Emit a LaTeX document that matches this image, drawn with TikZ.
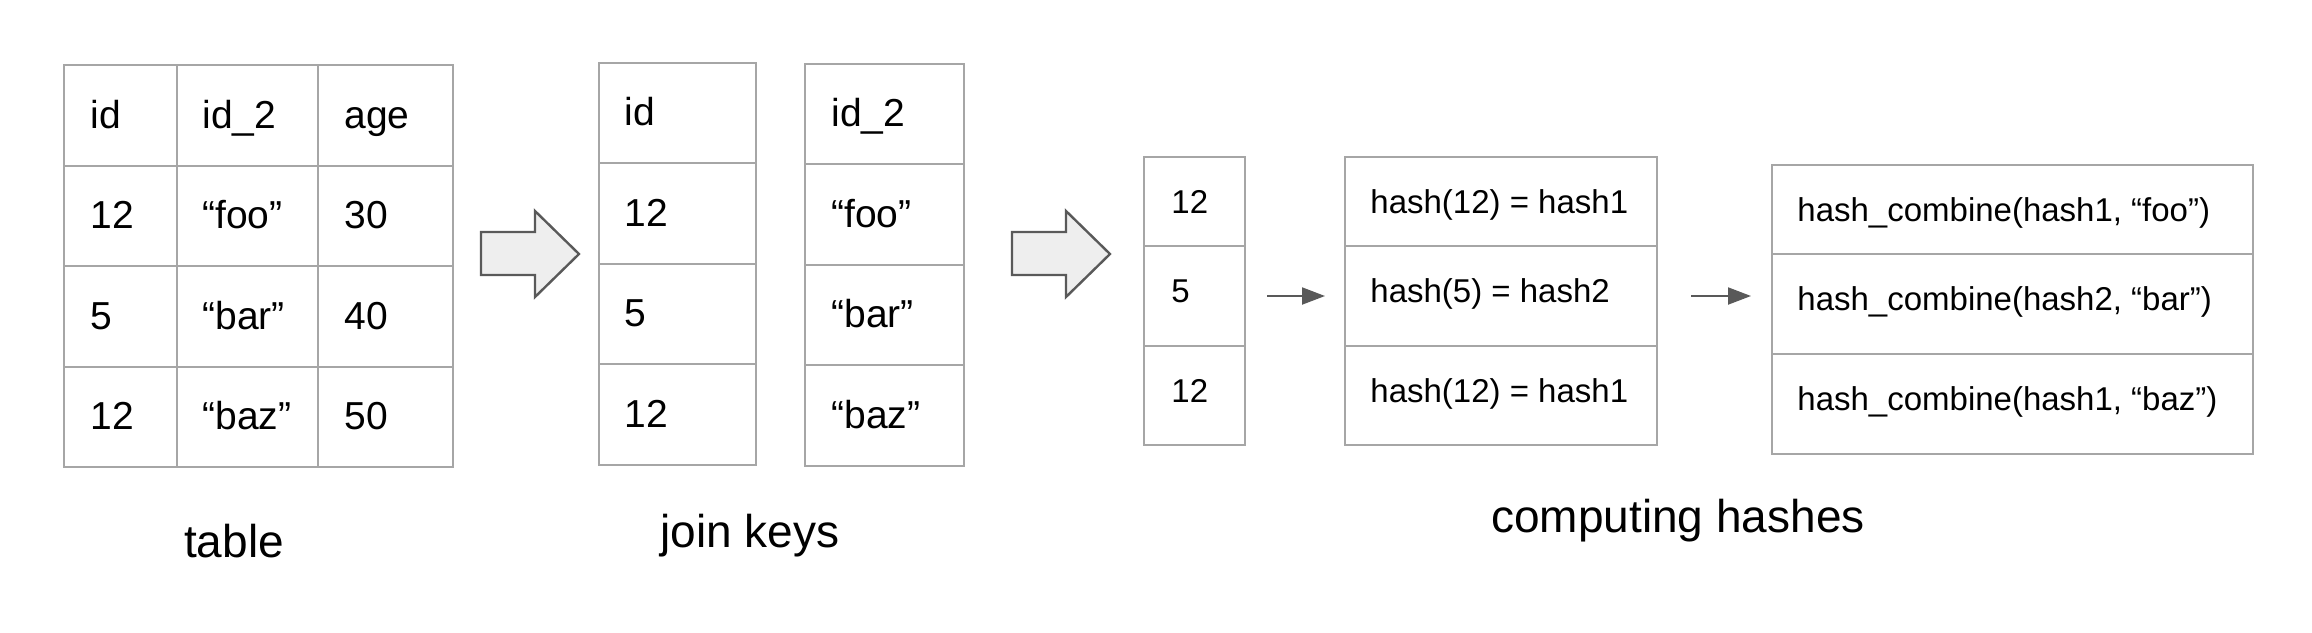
\documentclass[tikz,border=0pt]{standalone}
\usepackage{fontspec}
\setmainfont{Liberation Sans}
\usetikzlibrary{arrows.meta}
\definecolor{cellline}{HTML}{A6A6A6}
\definecolor{arrowline}{HTML}{595959}
\definecolor{arrowfill}{HTML}{EEEEEE}
\tikzset{
    cell/.style={draw=cellline,line width=1pt,anchor=north west,inner sep=0pt,outer sep=0pt},
    tabtext/.style={anchor=base west,inner sep=0pt,font=\fontsize{19.5pt}{23pt}\selectfont},
    hashtext/.style={anchor=base west,inner sep=0pt,font=\fontsize{16.5pt}{20pt}\selectfont},
    caption/.style={anchor=base,inner sep=0pt,font=\fontsize{23pt}{28pt}\selectfont},
    blockarrow/.style={draw=arrowline,fill=arrowfill,line width=1.2pt},
    thinarrow/.style={draw=arrowline,line width=1pt,-{Triangle[length=11.5pt,width=8.5pt]}}
}
\begin{document}
\begin{tikzpicture}[x=0.5pt,y=-0.5pt]
    \useasboundingbox (0,0) rectangle (2312,632);
    \foreach \r/\a/\b/\c in {0/id/id\_2/age,1/12/“foo”/30,2/5/“bar”/40,3/12/“baz”/50}{
        \node[cell,minimum width=56.5pt,minimum height=50.25pt] (ta\r) at (64,65+100.5*\r) {};
        \node[cell,minimum width=70.5pt,minimum height=50.25pt] (tb\r) at (177,65+100.5*\r) {};
        \node[cell,minimum width=67.5pt,minimum height=50.25pt] (tc\r) at (318,65+100.5*\r) {};
        \node[tabtext] (ta\r-t) at ([shift={(26,63)}]ta\r.north west) {\a};
        \node[tabtext] (tb\r-t) at ([shift={(25,63)}]tb\r.north west) {\b};
        \node[tabtext] (tc\r-t) at ([shift={(26,63)}]tc\r.north west) {\c};
    }
    \foreach \r/\a/\b in {0/id/id\_2,1/12/“foo”,2/5/“bar”,3/12/“baz”}{
        \node[cell,minimum width=78.5pt,minimum height=50.25pt] (ka\r) at (599,62.5+100.5*\r) {};
        \node[cell,minimum width=79.5pt,minimum height=50.25pt] (kb\r) at (805,63.5+100.5*\r) {};
        \node[tabtext] (ka\r-t) at ([shift={(25,63)}]ka\r.north west) {\a};
        \node[tabtext] (kb\r-t) at ([shift={(26,63)}]kb\r.north west) {\b};
    }
    \foreach \dx in {0,531}
        \draw[blockarrow,shift={(\dx,0)}] (481,232) -- (535,232) -- (535,211) -- (579,254) -- (535,297) -- (535,275) -- (481,275) -- cycle;
    \foreach \r/\t/\h/\n/\v in {0/157/44.5pt/12/{hash(12) = hash1},1/246/50pt/5/{hash(5) = hash2},2/346/49.5pt/12/{hash(12) = hash1}}{
        \node[cell,minimum width=50.5pt,minimum height=\h] (s\r) at (1144,\t) {};
        \node[cell,minimum width=156pt,minimum height=\h] (h\r) at (1345,\t) {};
        \node[hashtext] (s\r-t) at ([shift={(27,56)}]s\r.north west) {\n};
        \node[hashtext] (h\r-t) at ([shift={(25,56)}]h\r.north west) {\v};
    }
    \foreach \r/\t/\h/\v in {0/165/44.5pt/{hash\_combine(hash1, “foo”)},1/254/50pt/{hash\_combine(hash2, “bar”)},2/354/50pt/{hash\_combine(hash1, “baz”)}}{
        \node[cell,minimum width=240.5pt,minimum height=\h] (c\r) at (1772,\t) {};
        \node[hashtext] (c\r-t) at ([shift={(25,56)}]c\r.north west) {\v};
    }
    \draw[thinarrow,shorten <=11pt,shorten >=10pt] (s1.east) -- (h1.west);
    \draw[thinarrow,shorten <=17pt,shorten >=10.5pt] (h1.east) -- (h1.east -| c1.west);
    \node[caption] (cap-table) at (234,557) {table};
    \node[caption] (cap-keys) at (750,547) {join keys};
    \node[caption] (cap-hash) at (1678,532) {computing hashes};
\end{tikzpicture}
\end{document}
